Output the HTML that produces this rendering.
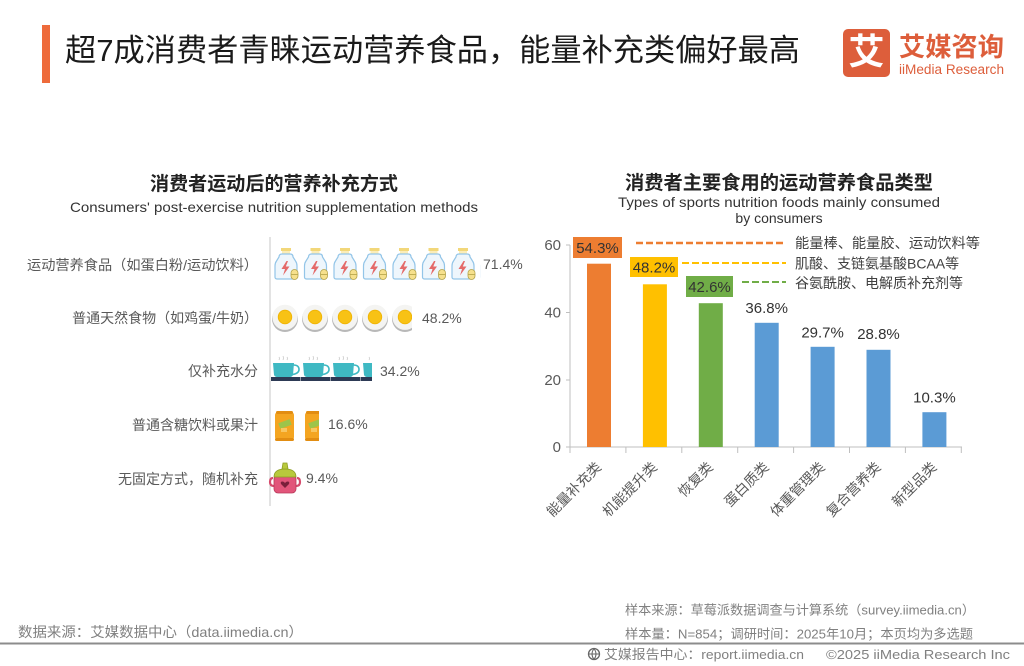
<!DOCTYPE html>
<html><head><meta charset="utf-8"><style>
html,body{margin:0;padding:0;background:#fff;}
svg{display:block;}
text{font-family:"Liberation Sans","Noto Sans CJK SC",sans-serif;}
</style></head><body>
<svg width="1024" height="666" viewBox="0 0 1024 666" xmlns="http://www.w3.org/2000/svg">
<defs>
  <symbol id="bottle" viewBox="0 0 28 32" overflow="visible">
    <rect x="9" y="0" width="10" height="3" fill="#F2D77A"/>
    <rect x="10" y="3" width="8" height="3" fill="#FBEDB8"/>
    <path d="M7 9 Q7 6 10 6 L18 6 Q21 6 21 9 L23.5 13 Q25 15 25 18 L25 29 Q25 31 23 31 L5 31 Q3 31 3 29 L3 18 Q3 15 4.5 13 Z" fill="#EEF6FC" stroke="#93C5E8" stroke-width="1.2"/>
    <polygon points="14.5,13 9.5,21 13,21 11,27.5 17.5,18.5 13.8,18.5 16,13" fill="#E46A6A"/>
    <rect x="19" y="21.5" width="7" height="10" rx="3.5" fill="#F6E08C" stroke="#B4A248" stroke-width="0.8"/>
    <line x1="19" y1="26.5" x2="26" y2="26.5" stroke="#B4A248" stroke-width="0.8"/>
  </symbol>
  <symbol id="egg" viewBox="0 0 28 28" overflow="visible">
    <circle cx="14" cy="15" r="13" fill="#B8B8B8"/>
    <circle cx="14" cy="13.3" r="12.6" fill="#F4F4F2"/>
    <circle cx="14" cy="13" r="6.8" fill="#F8C215" stroke="#EFB300" stroke-width="0.8"/>
  </symbol>
  <symbol id="cup" viewBox="0 0 30 26" overflow="visible">
    <path d="M8 1 Q9 2.5 8 4 M12 0 Q13 2 12 4 M16 1 Q17 2.5 16 4" stroke="#CCCCCC" stroke-width="0.8" fill="none"/>
    <path d="M2 7 L23 7 L22 19 Q21 21 19 21 L6 21 Q4 21 3 19 Z" fill="#3FB9C3"/>
    <path d="M22.5 9 Q28 9 28 13.5 Q28 17.5 21.5 18.5" stroke="#3FB9C3" stroke-width="1.6" fill="none"/>
    <rect x="0" y="21" width="29.5" height="4" fill="#2D3A55"/>
  </symbol>
  <symbol id="can" viewBox="0 0 20 30" overflow="visible">
    <rect x="0" y="1" width="19" height="28" rx="3" fill="#F4A521"/>
    <rect x="1" y="0" width="17" height="3" rx="1.5" fill="#E28D12"/>
    <rect x="0" y="27" width="19" height="3" rx="1.5" fill="#E28D12"/>
    <rect x="4" y="10" width="12" height="6" fill="#9DC44A" transform="rotate(-20 10 13)"/>
    <rect x="6" y="17" width="6" height="4" fill="#F8C660"/>
  </symbol>
  <symbol id="sippy" viewBox="0 0 30 32" overflow="visible">
    <path d="M3 16 Q0 16 0 20 Q0 24 4 24" stroke="#D64A6C" stroke-width="2.2" fill="none"/>
    <path d="M27 16 Q30 16 30 20 Q30 24 26 24" stroke="#D64A6C" stroke-width="2.2" fill="none"/>
    <rect x="4" y="13" width="22" height="18" rx="4" fill="#E2557A" stroke="#B93A5A" stroke-width="0.8"/>
    <path d="M4 15 Q4 7 15 7 Q26 7 26 15 Z" fill="#B8C93C" stroke="#8E9E25" stroke-width="0.8"/>
    <path d="M12 7 L13 1 L17 1 L18 7 Z" fill="#B8C93C" stroke="#8E9E25" stroke-width="0.8"/>
    <path d="M15 26 L11 22 Q10 19.5 12.5 19.5 Q14 19.5 15 21 Q16 19.5 17.5 19.5 Q20 19.5 19 22 Z" fill="#7A1F3A"/>
  </symbol>
  <clipPath id="c1"><rect x="260" y="240" width="221" height="45"/></clipPath>
  <clipPath id="c2"><rect x="260" y="300" width="152" height="40"/></clipPath>
  <clipPath id="c3"><rect x="260" y="350" width="112" height="40"/></clipPath>
  <clipPath id="c4"><rect x="260" y="405" width="59" height="40"/></clipPath>
</defs>

<!-- Header -->
<rect x="42" y="25" width="8" height="58" fill="#EE6B3B"/>
<text x="65" y="61" font-size="31" font-weight="400" fill="#1a1a1a" textLength="735" lengthAdjust="spacingAndGlyphs">超7成消费者青睐运动营养食品，能量补充类偏好最高</text>

<!-- Logo -->
<rect x="843" y="29" width="47" height="48" rx="5" fill="#DD5E3B"/>
<text x="866.5" y="64" font-size="36" font-weight="700" fill="#fff" text-anchor="middle">艾</text>
<text x="899" y="56" font-size="26" font-weight="700" fill="#DD5E3B" textLength="105" lengthAdjust="spacingAndGlyphs">艾媒咨询</text>
<text x="899" y="74" font-size="13.5" fill="#DD5E3B" textLength="105" lengthAdjust="spacingAndGlyphs">iiMedia Research</text>

<!-- Left chart -->
<text x="274" y="190" font-size="19" font-weight="700" fill="#222" text-anchor="middle" textLength="248" lengthAdjust="spacingAndGlyphs">消费者运动后的营养补充方式</text>
<text x="274" y="212" font-size="14" fill="#333" text-anchor="middle" textLength="408" lengthAdjust="spacingAndGlyphs">Consumers' post-exercise nutrition supplementation methods</text>

<line x1="270" y1="237" x2="270" y2="506" stroke="#D0D0D0" stroke-width="1.2"/>

<g font-size="14" fill="#595959" text-anchor="end">
  <text x="258" y="270" textLength="231" lengthAdjust="spacingAndGlyphs">运动营养食品（如蛋白粉/运动饮料）</text>
  <text x="258" y="323">普通天然食物（如鸡蛋/牛奶）</text>
  <text x="258" y="376">仅补充水分</text>
  <text x="258" y="430">普通含糖饮料或果汁</text>
  <text x="258" y="484">无固定方式，随机补充</text>
</g>

<g clip-path="url(#c1)">
  <use href="#bottle" x="272" y="248" width="28" height="32"/>
  <use href="#bottle" x="301.5" y="248" width="28" height="32"/>
  <use href="#bottle" x="331" y="248" width="28" height="32"/>
  <use href="#bottle" x="360.5" y="248" width="28" height="32"/>
  <use href="#bottle" x="390" y="248" width="28" height="32"/>
  <use href="#bottle" x="419.5" y="248" width="28" height="32"/>
  <use href="#bottle" x="449" y="248" width="28" height="32"/>
  <use href="#bottle" x="478.5" y="248" width="28" height="32"/>
</g>
<g clip-path="url(#c2)">
  <use href="#egg" x="271" y="304" width="28" height="28"/>
  <use href="#egg" x="301" y="304" width="28" height="28"/>
  <use href="#egg" x="331" y="304" width="28" height="28"/>
  <use href="#egg" x="361" y="304" width="28" height="28"/>
  <use href="#egg" x="391" y="304" width="28" height="28"/>
</g>
<g clip-path="url(#c3)">
  <use href="#cup" x="271" y="356" width="30" height="26"/>
  <use href="#cup" x="301" y="356" width="30" height="26"/>
  <use href="#cup" x="331" y="356" width="30" height="26"/>
  <use href="#cup" x="361" y="356" width="30" height="26"/>
</g>
<g clip-path="url(#c4)">
  <use href="#can" x="275" y="411" width="20" height="30"/>
  <use href="#can" x="305" y="411" width="20" height="30"/>
</g>
<use href="#sippy" x="270" y="462" width="30" height="32"/>

<g font-size="14" fill="#595959">
  <text x="483" y="269">71.4%</text>
  <text x="422" y="323">48.2%</text>
  <text x="380" y="376">34.2%</text>
  <text x="328" y="429">16.6%</text>
  <text x="306" y="483">9.4%</text>
</g>

<!-- Right chart -->
<text x="779" y="189" font-size="19" font-weight="700" fill="#222" text-anchor="middle" textLength="308" lengthAdjust="spacingAndGlyphs">消费者主要食用的运动营养食品类型</text>
<text x="779" y="207" font-size="14" fill="#333" text-anchor="middle" textLength="322" lengthAdjust="spacingAndGlyphs">Types of sports nutrition foods mainly consumed</text>
<text x="779" y="223" font-size="14" fill="#333" text-anchor="middle">by consumers</text>

<!-- axes -->
<g stroke="#BFBFBF" stroke-width="1">
  <line x1="570" y1="245" x2="570" y2="447"/>
  <line x1="566" y1="245" x2="570" y2="245"/>
  <line x1="566" y1="312.5" x2="570" y2="312.5"/>
  <line x1="566" y1="380" x2="570" y2="380"/>
  <line x1="566" y1="447" x2="570" y2="447"/>
  <line x1="570" y1="447" x2="962" y2="447"/>
  <line x1="570" y1="447" x2="570" y2="453"/>
  <line x1="625.9" y1="447" x2="625.9" y2="453"/>
  <line x1="681.8" y1="447" x2="681.8" y2="453"/>
  <line x1="737.7" y1="447" x2="737.7" y2="453"/>
  <line x1="793.6" y1="447" x2="793.6" y2="453"/>
  <line x1="849.5" y1="447" x2="849.5" y2="453"/>
  <line x1="905.4" y1="447" x2="905.4" y2="453"/>
  <line x1="961.3" y1="447" x2="961.3" y2="453"/>
</g>
<g font-size="15" fill="#595959" text-anchor="end">
  <text x="561" y="250">60</text>
  <text x="561" y="317.5">40</text>
  <text x="561" y="385">20</text>
  <text x="561" y="452">0</text>
</g>

<!-- bars -->
<rect x="587" y="263.7" width="24" height="183.3" fill="#ED7D31"/>
<rect x="642.9" y="284.3" width="24" height="162.7" fill="#FFC000"/>
<rect x="698.8" y="303.2" width="24" height="143.8" fill="#70AD47"/>
<rect x="754.7" y="322.8" width="24" height="124.2" fill="#5B9BD5"/>
<rect x="810.6" y="346.8" width="24" height="100.2" fill="#5B9BD5"/>
<rect x="866.5" y="349.8" width="24" height="97.2" fill="#5B9BD5"/>
<rect x="922.4" y="412.2" width="24" height="34.8" fill="#5B9BD5"/>

<!-- boxed labels -->
<rect x="573" y="237" width="49" height="21" fill="#ED7D31"/>
<rect x="630" y="257" width="48" height="20" fill="#FFC000"/>
<rect x="686" y="276" width="47" height="21" fill="#70AD47"/>
<g font-size="15" fill="#333" text-anchor="middle">
  <text x="597.5" y="253">54.3%</text>
  <text x="654" y="272.5">48.2%</text>
  <text x="709.5" y="292">42.6%</text>
  <text x="766.7" y="313">36.8%</text>
  <text x="822.6" y="337.5">29.7%</text>
  <text x="878.5" y="339">28.8%</text>
  <text x="934.4" y="402.5">10.3%</text>
</g>

<!-- legend dashed lines -->
<line x1="636" y1="243" x2="786" y2="243" stroke="#ED7D31" stroke-width="2.5" stroke-dasharray="7,3"/>
<line x1="682" y1="263" x2="786" y2="263" stroke="#FFC000" stroke-width="2" stroke-dasharray="7,3"/>
<line x1="742" y1="282" x2="786" y2="282" stroke="#70AD47" stroke-width="2" stroke-dasharray="7,3"/>
<g font-size="14" fill="#404040">
  <text x="795" y="248" textLength="185" lengthAdjust="spacingAndGlyphs">能量棒、能量胶、运动饮料等</text>
  <text x="795" y="268.5">肌酸、支链氨基酸BCAA等</text>
  <text x="795" y="288">谷氨酰胺、电解质补充剂等</text>
</g>

<!-- x labels -->
<g font-size="14" fill="#595959" text-anchor="end">
  <text transform="translate(602,468) rotate(-45)">能量补充类</text>
  <text transform="translate(657.9,468) rotate(-45)">机能提升类</text>
  <text transform="translate(713.8,468) rotate(-45)">恢复类</text>
  <text transform="translate(769.7,468) rotate(-45)">蛋白质类</text>
  <text transform="translate(825.6,468) rotate(-45)">体重管理类</text>
  <text transform="translate(881.5,468) rotate(-45)">复合营养类</text>
  <text transform="translate(937.4,468) rotate(-45)">新型品类</text>
</g>

<!-- Footer -->
<text x="18" y="637" font-size="14" fill="#808080" textLength="285" lengthAdjust="spacingAndGlyphs">数据来源：艾媒数据中心（data.iimedia.cn）</text>
<text x="625" y="614.5" font-size="13" fill="#808080" textLength="350" lengthAdjust="spacingAndGlyphs">样本来源：草莓派数据调查与计算系统（survey.iimedia.cn）</text>
<text x="625" y="638.5" font-size="13" fill="#808080" textLength="348" lengthAdjust="spacingAndGlyphs">样本量：N=854；调研时间：2025年10月；本页均为多选题</text>
<rect x="0" y="642.5" width="1024" height="2" fill="#8C8C8C"/>
<circle cx="594" cy="654" r="5.5" fill="none" stroke="#666" stroke-width="1.3"/>
<path d="M589 654 L599 654 M594 648.5 Q590 654 594 659.5 M594 648.5 Q598 654 594 659.5" stroke="#666" stroke-width="1" fill="none"/>
<text x="604" y="659" font-size="13" fill="#808080" textLength="200" lengthAdjust="spacingAndGlyphs">艾媒报告中心：report.iimedia.cn</text>
<text x="826" y="659" font-size="13" fill="#808080" textLength="184" lengthAdjust="spacingAndGlyphs">©2025  iiMedia Research  Inc</text>
</svg>
</body></html>
